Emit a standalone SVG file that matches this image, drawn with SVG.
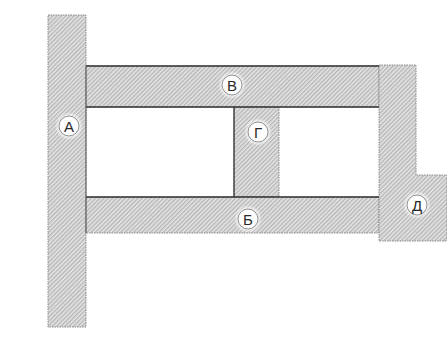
<svg xmlns="http://www.w3.org/2000/svg" width="447" height="337" viewBox="0 0 447 337">
<defs>
<pattern id="hatch" patternUnits="userSpaceOnUse" width="3" height="3" patternTransform="rotate(45)">
<rect width="3" height="3" fill="#e6e6e6"/>
<line x1="0.8" y1="0" x2="0.8" y2="3" stroke="#8f8f8f" stroke-width="0.8"/>
</pattern>
<radialGradient id="glow">
<stop offset="0" stop-color="#fff" stop-opacity="1"/>
<stop offset="0.65" stop-color="#fff" stop-opacity="0.95"/>
<stop offset="1" stop-color="#fff" stop-opacity="0"/>
</radialGradient>
</defs>
<style>
.part{fill:url(#hatch);stroke:#8c8c8c;stroke-width:1;stroke-dasharray:1.5 1}
.edge{stroke:#333;stroke-width:1.3;fill:none}
.glow{fill:url(#glow)}
.ring{fill:none;stroke:#777;stroke-width:0.8}
.lbl{font-family:"Liberation Sans","DejaVu Sans",sans-serif;font-size:15px;fill:#2a2a2a;text-anchor:middle;dominant-baseline:central}
</style>
<rect width="447" height="337" fill="#fff"/>
<g id="part-A">
<rect class="part" x="48" y="15" width="38" height="312"/>
</g>
<g id="part-V">
<rect class="part" x="86" y="66" width="293" height="41"/>
</g>
<g id="part-G">
<rect class="part" x="234" y="107" width="45" height="90"/>
</g>
<g id="part-B">
<rect class="part" x="86" y="197" width="293" height="36"/>
</g>
<g id="part-D">
<polygon class="part" points="379,65 416,65 416,175 447,175 447,241 379,241"/>
</g>
<g id="edges">
<line class="edge" x1="86" y1="66" x2="379" y2="66"/>
<line class="edge" x1="86" y1="107" x2="379" y2="107"/>
<line class="edge" x1="86" y1="197" x2="379" y2="197"/>
<line class="edge" x1="234" y1="107" x2="234" y2="197"/>
<line x1="86" y1="66" x2="86" y2="233" stroke="#555" stroke-width="1"/>
</g>
<g id="labels">
<circle class="glow" cx="69" cy="126" r="14"/>
<circle class="ring" cx="69" cy="126" r="10"/>
<text class="lbl" x="69" y="126">А</text>
<circle class="glow" cx="232" cy="85" r="14"/>
<circle class="ring" cx="232" cy="85" r="10"/>
<text class="lbl" x="232" y="85">В</text>
<circle class="glow" cx="258" cy="132" r="14"/>
<circle class="ring" cx="258" cy="132" r="10"/>
<text class="lbl" x="258" y="132">Г</text>
<circle class="glow" cx="248" cy="219" r="14"/>
<circle class="ring" cx="248" cy="219" r="10"/>
<text class="lbl" x="248" y="219">Б</text>
<circle class="glow" cx="417" cy="205" r="14"/>
<circle class="ring" cx="417" cy="205" r="10"/>
<text class="lbl" x="417" y="205">Д</text>
</g>
</svg>
